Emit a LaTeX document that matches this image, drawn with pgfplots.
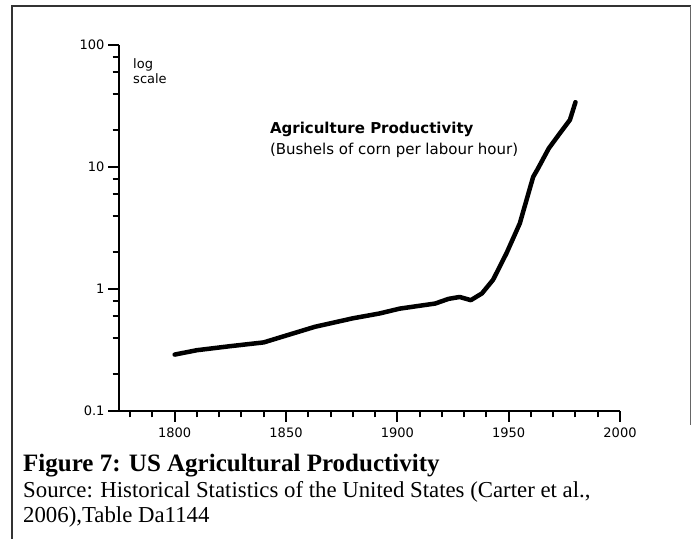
\documentclass[border=0pt]{standalone}
\usepackage{pgfplots}
\pgfplotsset{compat=1.18}
\usepackage{fontspec}
\setmainfont{Liberation Serif}
\newfontfamily\dejavu{DejaVu Sans}
\pgfplotstableread{
year value
1800 0.29
1810 0.315
1825 0.34
1840 0.365
1850 0.415
1863 0.49
1880 0.575
1892 0.63
1901 0.69
1917 0.76
1923 0.83
1928 0.86
1933 0.81
1938 0.92
1943 1.19
1949 1.96
1955 3.45
1961 8.3
1963 9.6
1968 14.2
1973 18.9
1977.5 24.3
1980 34
}\datatable
\begin{document}
\begin{tikzpicture}[x=1bp,y=1bp]
\useasboundingbox (0,0) rectangle (691,539);
\draw[line width=1.3bp,black!80] (691,533) -- (12,533) -- (12,0);
\draw[line width=1bp,black!60] (690.3,533) -- (690.3,114);
\begin{axis}[
  at={(119bp,128bp)}, anchor=south west,
  width=501bp, height=366bp, scale only axis,
  xmin=1775, xmax=2000,
  ymode=log, ymin=0.1, ymax=100,
  axis x line*=bottom, axis y line*=left,
  axis line style={line width=2bp},
  xtick={1800,1850,1900,1950,2000},
  xticklabels={1800,1850,1900,1950,2000},
  minor xtick={1780,1790,1810,1820,1830,1840,1860,1870,1880,1890,1910,1920,1930,1940,1960,1970,1980,1990},
  ytick={0.1,1,10,100},
  yticklabels={0.1,1,10,100},
  minor ytick={0.2,0.4,0.6,0.8,2,4,6,8,20,40,60,80},
  tick align=outside,
  major tick length=11bp, minor tick length=6.5bp,
  every tick/.style={line width=2bp, black},
  every minor tick/.style={line width=2bp, black},
  tick label style={font=\dejavu\fontsize{13bp}{15bp}\selectfont},
  xticklabel style={yshift=-2bp},
  clip=false,
]
\addplot[line width=4.5bp, black, line join=round, line cap=round] table[x=year,y=value] {\datatable};
\node[anchor=base west, inner sep=0pt, font=\dejavu\fontsize{13bp}{15bp}\selectfont] at (rel axis cs:0.028,0.937) {log};
\node[anchor=base west, inner sep=0pt, font=\dejavu\fontsize{13bp}{15bp}\selectfont] at (rel axis cs:0.028,0.896) {scale};
\node[anchor=base west, inner sep=0pt, font=\dejavu\bfseries\fontsize{15bp}{18bp}\selectfont] at (rel axis cs:0.301,0.757) {Agriculture Productivity};
\node[anchor=base west, inner sep=0pt, font=\dejavu\fontsize{15bp}{18bp}\selectfont] at (rel axis cs:0.301,0.702) {(Bushels of corn per labour hour)};
\end{axis}
\node[anchor=base west, inner sep=0pt, font=\bfseries\fontsize{25bp}{28bp}\selectfont] at (23,67) {Figure 7: US Agricultural Productivity};
\node[anchor=base west, inner sep=0pt, font=\fontsize{22.8bp}{26bp}\selectfont] at (23,41) {Source: Historical Statistics of the United States (Carter et al.,};
\node[anchor=base west, inner sep=0pt, font=\fontsize{22.8bp}{26bp}\selectfont] at (23,16) {2006),Table Da1144};
\end{tikzpicture}
\end{document}
